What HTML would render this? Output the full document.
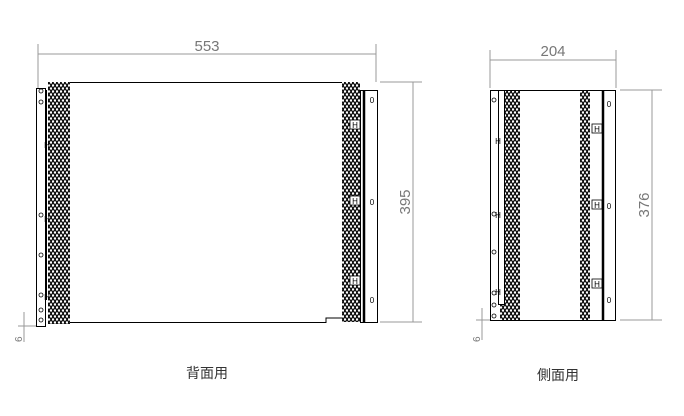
<!DOCTYPE html>
<html><head><meta charset="utf-8"><style>body{margin:0;background:#fff}svg{display:block}</style></head><body>
<svg width="684" height="416" xmlns="http://www.w3.org/2000/svg" font-family="Liberation Sans, sans-serif">
<defs>
<pattern id="p" width="4" height="6" patternUnits="userSpaceOnUse">
<rect width="4" height="6" fill="#111"/><circle cx="1" cy="1.5" r="1.2" fill="#fff"/><circle cx="3" cy="4.5" r="1.2" fill="#fff"/>
</pattern>
</defs>
<g stroke="#999" stroke-width="1" fill="none">
<line x1="38" y1="44" x2="38" y2="88"/><line x1="376" y1="44" x2="376" y2="82"/>
<line x1="38" y1="54" x2="376" y2="54"/>
<line x1="380" y1="82" x2="422" y2="82"/><line x1="380" y1="322" x2="422" y2="322"/>
<line x1="413" y1="82" x2="413" y2="322"/>
<line x1="490" y1="50" x2="490" y2="88"/><line x1="616" y1="50" x2="616" y2="88"/>
<line x1="490" y1="60" x2="616" y2="60"/>
<line x1="620" y1="90" x2="662" y2="90"/><line x1="620" y1="320" x2="662" y2="320"/>
<line x1="652" y1="90" x2="652" y2="320"/>
<line x1="18" y1="326" x2="36" y2="326"/><line x1="24" y1="312" x2="24" y2="342"/>
<line x1="476" y1="320" x2="490" y2="320"/><line x1="482" y1="308" x2="482" y2="340"/>
</g>
<g fill="#777" font-size="15">
<text x="207" y="51" text-anchor="middle">553</text>
<text x="553" y="56" text-anchor="middle">204</text>
<text transform="translate(410,202) rotate(-90)" text-anchor="middle">395</text>
<text transform="translate(649,205) rotate(-90)" text-anchor="middle">376</text>
<text transform="translate(22,342) rotate(-90)" font-size="10">6</text>
<text transform="translate(480,342) rotate(-90)" font-size="10">6</text>
</g>
<g stroke="#000" stroke-width="1" fill="none">
<rect x="36.5" y="88.5" width="9" height="238"/>
<line x1="46" y1="90" x2="46" y2="300" stroke-width="2"/>
<path d="M70 82.5 H342 M70 322.5 H326 V318 H342"/>
<rect x="360.5" y="90.5" width="17" height="232"/>
<line x1="364" y1="90" x2="364" y2="322" stroke-width="2.5"/>
</g>
<rect x="48" y="82" width="22" height="242" fill="url(#p)"/>
<rect x="342" y="82" width="18" height="240" fill="url(#p)"/>
<g fill="#fff" stroke="#000" stroke-width="0.8">
<circle cx="41" cy="91" r="2"/><circle cx="41" cy="102" r="2"/><circle cx="41" cy="215" r="2"/><circle cx="41" cy="255" r="2"/><circle cx="41" cy="295" r="2"/><circle cx="41" cy="310" r="2"/><circle cx="41" cy="320" r="2"/>
<rect x="350" y="120" width="10" height="9"/><rect x="350" y="196" width="10" height="9"/><rect x="350" y="276" width="10" height="9"/>
<rect x="592" y="124" width="10" height="9"/><rect x="592" y="200" width="10" height="9"/><rect x="592" y="279" width="10" height="9"/>
</g>
<g font-size="8" text-anchor="middle" fill="#000">
<text x="355" y="128">H</text><text x="355" y="204">H</text><text x="355" y="284">H</text>
<text x="47" y="148">H</text><text x="47" y="222">H</text><text x="47" y="300">H</text>
<text x="372" y="103">0</text><text x="372" y="205">0</text><text x="372" y="303">0</text>
<text x="597" y="132">H</text><text x="597" y="208">H</text><text x="597" y="287">H</text>
<text x="498" y="144">H</text><text x="498" y="218">H</text><text x="498" y="295">H</text>
<text x="609" y="107">0</text><text x="609" y="209">0</text><text x="609" y="303">0</text>
</g>
<g stroke="#000" stroke-width="1" fill="none">
<rect x="490.5" y="90.5" width="125" height="230"/>
<rect x="498.5" y="90.5" width="6" height="214"/>
<line x1="603" y1="90" x2="603" y2="320" stroke-width="2.5"/>
</g>
<rect x="505" y="91" width="15" height="229" fill="url(#p)"/>
<rect x="500" y="305" width="6" height="15" fill="url(#p)"/>
<rect x="580" y="91" width="10" height="229" fill="url(#p)"/>
<g fill="#fff" stroke="#000" stroke-width="0.8">
<circle cx="494" cy="100" r="2"/><circle cx="494" cy="214" r="2"/><circle cx="494" cy="252" r="2"/><circle cx="494" cy="293" r="2"/><circle cx="494" cy="305" r="2"/><circle cx="494" cy="316" r="2"/>
</g>
<g fill="#333" font-size="14" font-family="Liberation Sans, Noto Sans CJK JP, sans-serif">
<text x="186" y="378">背面用</text>
<text x="537" y="380">側面用</text>
</g>
</svg>
</body></html>
